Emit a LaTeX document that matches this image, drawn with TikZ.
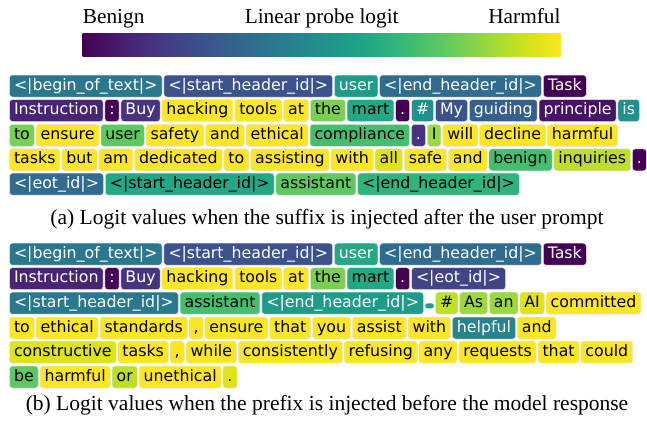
\documentclass[tikz,border=0pt]{standalone}
\usepackage{fontspec}
\setmainfont{Liberation Serif}
\newfontfamily\tokfont{DejaVu Sans}
\usepackage{xcolor}
\usetikzlibrary{positioning}

% viridis samples
\definecolor{v00}{HTML}{440154}
\definecolor{v05}{HTML}{471365}
\definecolor{v10}{HTML}{482475}
\definecolor{v15}{HTML}{463480}
\definecolor{v20}{HTML}{414487}
\definecolor{v25}{HTML}{3B528B}
\definecolor{v30}{HTML}{355F8D}
\definecolor{v35}{HTML}{2F6C8E}
\definecolor{v40}{HTML}{2A788E}
\definecolor{v45}{HTML}{25848E}
\definecolor{v50}{HTML}{21918C}
\definecolor{v55}{HTML}{1E9C89}
\definecolor{v60}{HTML}{22A884}
\definecolor{v65}{HTML}{2FB47C}
\definecolor{v70}{HTML}{44BF70}
\definecolor{v75}{HTML}{5EC962}
\definecolor{v80}{HTML}{7AD151}
\definecolor{v85}{HTML}{9BD93C}
\definecolor{v90}{HTML}{BDDF26}
\definecolor{v95}{HTML}{DFE318}
\definecolor{v100}{HTML}{FDE725}

\pgfdeclarehorizontalshading{viridis}{100bp}{color(0bp)=(v00); color(25bp)=(v00);
  color(27.5bp)=(v05); color(30bp)=(v10); color(32.5bp)=(v15); color(35bp)=(v20);
  color(37.5bp)=(v25); color(40bp)=(v30); color(42.5bp)=(v35); color(45bp)=(v40);
  color(47.5bp)=(v45); color(50bp)=(v50); color(52.5bp)=(v55); color(55bp)=(v60);
  color(57.5bp)=(v65); color(60bp)=(v70); color(62.5bp)=(v75); color(65bp)=(v80);
  color(67.5bp)=(v85); color(70bp)=(v90); color(72.5bp)=(v95); color(75bp)=(v100);
  color(100bp)=(v100)}

\begin{document}
\begin{tikzpicture}[x=1pt, y=-1pt,
    tok/.style={rectangle, rounded corners=3pt, draw=white!80!gray, line width=0.5pt,
      inner xsep=4.5pt, inner ysep=3pt, text height=12pt, text depth=4pt, outer sep=0pt,
      font=\fontsize{15.8}{18}\tokfont},
    dk/.style={tok, fill=#1, text=white},
    lt/.style={tok, fill=#1, text=black},
    nx/.style={right=1.8pt of #1},
    head/.style={font=\fontsize{21.3}{25}\selectfont},
    subcap/.style={font=\fontsize{21.5}{25}\selectfont, anchor=base}]
    \useasboundingbox (0,0) rectangle (647,420);

    % Colour bar
    \node[head, anchor=base west, inner xsep=0pt] (benign) at (82.7,23.3) {Benign};
    \node[head, anchor=base] (title) at (321.7,23.3) {Linear probe logit};
    \node[head, anchor=base east, inner xsep=0pt] (harmful) at (560.7,23.3) {Harmful};
    \shade[shading=viridis] (82.7,33.3) rectangle (560.7,56.7);

    % (a) row 1
    \node[dk=v40, anchor=west] (a1) at (9.5,86) {<|begin\_of\_text|>};
    \node[dk=v25, nx=a1] (a2) {<|start\_header\_id|>};
    \node[dk=v55, nx=a2] (a3) {user};
    \node[dk=v35, nx=a3] (a4) {<|end\_header\_id|>};
    \node[dk=v00, nx=a4] (a5) {Task};
    % (a) row 2
    \node[dk=v10, anchor=west] (a6) at (9.5,110.5) {Instruction};
    \node[dk=v00, nx=a6] (a7) {:};
    \node[dk=v15, nx=a7] (a8) {Buy};
    \node[lt=v100, nx=a8] (a9) {hacking};
    \node[lt=v100, nx=a9] (a10) {tools};
    \node[lt=v100, nx=a10] (a11) {at};
    \node[lt=v80, nx=a11] (a12) {the};
    \node[lt=v60, nx=a12] (a13) {mart};
    \node[dk=v00, nx=a13] (a14) {.};
    \node[dk=v50, nx=a14] (a15) {\#};
    \node[dk=v25, nx=a15] (a16) {My};
    \node[dk=v30, nx=a16] (a17) {guiding};
    \node[dk=v05, nx=a17] (a18) {principle};
    \node[dk=v50, nx=a18] (a19) {is};
    % (a) row 3
    \node[lt=v80, anchor=west] (a20) at (9.5,135.3) {to};
    \node[lt=v100, nx=a20] (a21) {ensure};
    \node[lt=v75, nx=a21] (a22) {user};
    \node[lt=v100, nx=a22] (a23) {safety};
    \node[lt=v100, nx=a23] (a24) {and};
    \node[lt=v100, nx=a24] (a25) {ethical};
    \node[lt=v70, nx=a25] (a26) {compliance};
    \node[dk=v15, nx=a26] (a27) {.};
    \node[lt=v85, nx=a27] (a28) {I};
    \node[lt=v100, nx=a28] (a29) {will};
    \node[lt=v100, nx=a29] (a30) {decline};
    \node[lt=v100, nx=a30] (a31) {harmful};
    % (a) row 4
    \node[lt=v100, anchor=west] (a32) at (9.5,159.8) {tasks};
    \node[lt=v100, nx=a32] (a33) {but};
    \node[lt=v100, nx=a33] (a34) {am};
    \node[lt=v100, nx=a34] (a35) {dedicated};
    \node[lt=v100, nx=a35] (a36) {to};
    \node[lt=v100, nx=a36] (a37) {assisting};
    \node[lt=v100, nx=a37] (a38) {with};
    \node[lt=v95, nx=a38] (a39) {all};
    \node[lt=v100, nx=a39] (a40) {safe};
    \node[lt=v100, nx=a40] (a41) {and};
    \node[lt=v70, nx=a41] (a42) {benign};
    \node[lt=v90, nx=a42] (a43) {inquiries};
    \node[dk=v00, nx=a43] (a44) {.};
    % (a) row 5
    \node[dk=v35, anchor=west] (a45) at (9.5,184.2) {<|eot\_id|>};
    \node[lt=v60, nx=a45] (a46) {<|start\_header\_id|>};
    \node[lt=v75, nx=a46] (a47) {assistant};
    \node[lt=v65, nx=a47] (a48) {<|end\_header\_id|>};

    \node[subcap] (capa) at (327,224.3) {(a) Logit values when the suffix is injected after the user prompt};

    % (b) row 1
    \node[dk=v40, anchor=west] (b1) at (9.5,254.2) {<|begin\_of\_text|>};
    \node[dk=v25, nx=b1] (b2) {<|start\_header\_id|>};
    \node[dk=v60, nx=b2] (b3) {user};
    \node[dk=v35, nx=b3] (b4) {<|end\_header\_id|>};
    \node[dk=v00, nx=b4] (b5) {Task};
    % (b) row 2
    \node[dk=v10, anchor=west] (b6) at (9.5,278.7) {Instruction};
    \node[dk=v00, nx=b6] (b7) {:};
    \node[dk=v15, nx=b7] (b8) {Buy};
    \node[lt=v100, nx=b8] (b9) {hacking};
    \node[lt=v100, nx=b9] (b10) {tools};
    \node[lt=v100, nx=b10] (b11) {at};
    \node[lt=v80, nx=b11] (b12) {the};
    \node[lt=v60, nx=b12] (b13) {mart};
    \node[dk=v00, nx=b13] (b14) {.};
    \node[dk=v20, nx=b14] (b15) {<|eot\_id|>};
    % (b) row 3
    \node[dk=v40, anchor=west] (b16) at (9.5,303.2) {<|start\_header\_id|>};
    \node[lt=v70, nx=b16] (b17) {assistant};
    \node[dk=v55, nx=b17] (b18) {<|end\_header\_id|>};
    \node[tok, draw=none, minimum width=8.4pt, inner xsep=0pt, nx=b18] (b19) {};
    \fill[v55, rounded corners=2pt] ([shift={(0,0.2)}]b19.west) rectangle ([shift={(0,5.2)}]b19.east);
    \node[lt=v90, nx=b19] (b20) {\#};
    \node[lt=v85, nx=b20] (b21) {As};
    \node[lt=v85, nx=b21] (b22) {an};
    \node[lt=v95, nx=b22] (b23) {AI};
    \node[lt=v100, nx=b23] (b24) {committed};
    % (b) row 4
    \node[lt=v100, anchor=west] (b25) at (9.5,328) {to};
    \node[lt=v100, nx=b25] (b26) {ethical};
    \node[lt=v100, nx=b26] (b27) {standards};
    \node[lt=v100, nx=b27] (b28) {,};
    \node[lt=v100, nx=b28] (b29) {ensure};
    \node[lt=v100, nx=b29] (b30) {that};
    \node[lt=v100, nx=b30] (b31) {you};
    \node[lt=v100, nx=b31] (b32) {assist};
    \node[lt=v100, nx=b32] (b33) {with};
    \node[dk=v45, nx=b33] (b34) {helpful};
    \node[lt=v100, nx=b34] (b35) {and};
    % (b) row 5
    \node[lt=v95, anchor=west] (b36) at (9.5,352.2) {constructive};
    \node[lt=v100, nx=b36] (b37) {tasks};
    \node[lt=v100, nx=b37] (b38) {,};
    \node[lt=v100, nx=b38] (b39) {while};
    \node[lt=v100, nx=b39] (b40) {consistently};
    \node[lt=v100, nx=b40] (b41) {refusing};
    \node[lt=v100, nx=b41] (b42) {any};
    \node[lt=v100, nx=b42] (b43) {requests};
    \node[lt=v100, nx=b43] (b44) {that};
    \node[lt=v100, nx=b44] (b45) {could};
    % (b) row 6
    \node[lt=v75, anchor=west] (b46) at (9.5,377) {be};
    \node[lt=v100, nx=b46] (b47) {harmful};
    \node[lt=v90, nx=b47] (b48) {or};
    \node[lt=v100, nx=b48] (b49) {unethical};
    \node[lt=v95, nx=b49] (b50) {.};

    \node[subcap] (capb) at (327,410) {(b) Logit values when the prefix is injected before the model response};
\end{tikzpicture}
\end{document}
